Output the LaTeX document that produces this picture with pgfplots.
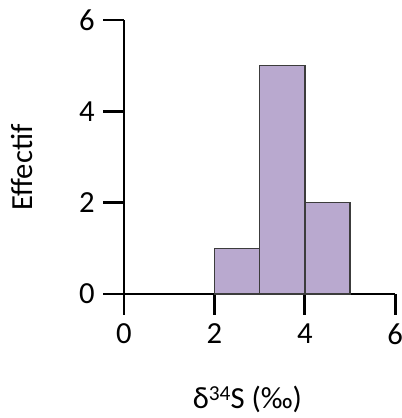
\documentclass[border=0pt]{standalone}
\usepackage{pgfplots}
\pgfplotsset{compat=1.18}
\usepackage{fontspec}
\setmainfont{Carlito}
\definecolor{barfill}{HTML}{B9A9CF}
\definecolor{baredge}{HTML}{3C3C3C}
\begin{document}
\begin{tikzpicture}
\path[use as bounding box] (-93pt,-93pt) rectangle (207.75pt,220.5pt);
\begin{axis}[
  anchor=origin, at={(0,0)},
  x=33.9pt, y=34.25pt,
  xmin=0, xmax=6, ymin=0, ymax=6,
  axis lines=left,
  axis line style={-, line width=2pt, black},
  every tick/.style={line width=2pt, black},
  tick align=outside,
  major tick length=15.5pt,
  xtick={0,2,4,6}, ytick={0,2,4,6},
  font=\fontsize{23pt}{26pt}\selectfont,
  /pgf/number format/assume math mode=true,
  xticklabel style={yshift=-3pt},
  yticklabel style={xshift=-3pt},
  xlabel={δ\raisebox{0.25em}{\fontsize{16pt}{16pt}\selectfont 34}S (‰)},
  ylabel={Effectif},
  xlabel style={at={(axis description cs:0.455,0)}, anchor=center, yshift=-79pt},
  ylabel style={at={(axis description cs:0,0.462)}, anchor=center, yshift=76.5pt},
  clip=false,
]
\addplot[fill=barfill, draw=baredge, line width=1.2pt, ybar interval]
  coordinates {(2,1) (3,5) (4,2) (5,2)};
\end{axis}
\end{tikzpicture}
\end{document}
